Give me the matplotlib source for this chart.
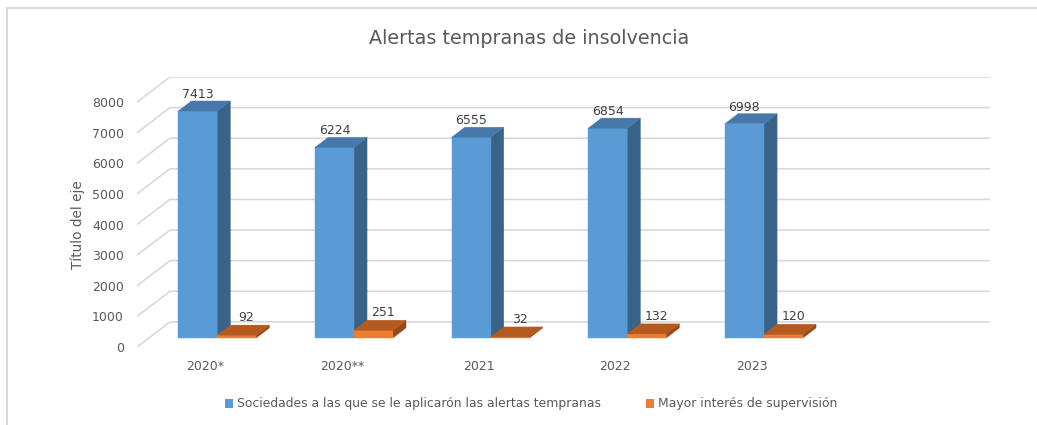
import matplotlib.pyplot as plt
from matplotlib.patches import Polygon, Patch
from matplotlib.lines import Line2D

plt.rcParams['font.family'] = ['DejaVu Sans']

# --- data ---
categories = ['2020*', '2020**', '2021', '2022', '2023']
sociedades = [7413, 6224, 6555, 6854, 6998]
supervision = [92, 251, 32, 132, 120]
series_names = ['Sociedades a las que se le aplicarón las alertas tempranas',
                'Mayor interés de supervisión']
yticks = list(range(0, 8001, 1000))

# --- fake 3D look ---
N_SLOTS = 6            # excel leaves an empty slot at the right
DEPTH_X = 0.241        # floor depth, category units
DEPTH_Y = 820          # floor depth, value units
BAR_W = 0.285
D0, D1 = 0.36, 0.76    # bar depth range (0 front, 1 back wall)

TXT = '#595959'
GRID = '#d9d9d9'
faces = {
    0: ('#5b9bd5', '#4679aa', '#3a6389'),
    1: ('#ed7d31', '#b55a1e', '#97491a'),
}


def proj(x, v, d):
    return (x + d * DEPTH_X, v + d * DEPTH_Y)


def draw_box(ax, x0, x1, h, cols):
    front = [proj(x0, 0, D0), proj(x1, 0, D0), proj(x1, h, D0), proj(x0, h, D0)]
    top = [proj(x0, h, D0), proj(x1, h, D0), proj(x1, h, D1), proj(x0, h, D1)]
    side = [proj(x1, 0, D0), proj(x1, 0, D1), proj(x1, h, D1), proj(x1, h, D0)]
    for pts, c in ((side, cols[2]), (front, cols[0]), (top, cols[1])):
        ax.add_patch(Polygon(pts, closed=True, facecolor=c, edgecolor=c,
                             linewidth=0.3, zorder=3))


W, H = 1037, 425
fig = plt.figure(figsize=(W / 100, H / 100), dpi=100)

# chart frame (only top and left edges are visible in the crop)
fig.add_artist(Line2D([6.5 / W, 1], [1 - 8 / H, 1 - 8 / H], color=GRID, lw=1.5,
                      transform=fig.transFigure))
fig.add_artist(Line2D([6.5 / W, 6.5 / W], [0, 1 - 8 / H], color=GRID, lw=1.5,
                      transform=fig.transFigure))

ax = fig.add_axes([137 / W, (H - 347) / H, (990 - 137) / W, (347 - 77) / H])
ax.set_xlim(0, N_SLOTS + DEPTH_X)
ax.set_ylim(0, yticks[-1] + DEPTH_Y)
for s in ax.spines.values():
    s.set_visible(False)

# side wall diagonals and back wall gridlines
for v in yticks:
    a = proj(0, v, 0)
    b = proj(0, v, 1)
    c = proj(N_SLOTS, v, 1)
    ax.plot([a[0], b[0], c[0]], [a[1], b[1], c[1]], color=GRID, lw=1.2, zorder=1,
            solid_joinstyle='miter')

# bars
for i, (v1, v2) in enumerate(zip(sociedades, supervision)):
    cx = i + 0.5
    draw_box(ax, cx - BAR_W, cx, v1, faces[0])
    draw_box(ax, cx, cx + BAR_W, v2, faces[1])
    fx, fy = proj(cx - BAR_W / 2, v1, D0)
    ax.annotate(str(v1), (fx, fy), xytext=(0, 12), textcoords='offset points',
                ha='center', va='center', fontsize=9, color='#404040', zorder=5)
    fx, fy = proj(cx + BAR_W / 2, v2, D0)
    ax.annotate(str(v2), (fx, fy), xytext=(7, 12.5), textcoords='offset points',
                ha='center', va='center', fontsize=9, color='#404040', zorder=5)

ax.set_yticks(yticks)
ax.set_yticklabels([str(t) for t in yticks])
ax.set_xticks([i + 0.5 for i in range(len(categories))])
ax.set_xticklabels(categories)
ax.tick_params(axis='y', length=0, pad=9.5, labelsize=9, labelcolor=TXT)
ax.tick_params(axis='x', length=0, pad=9, labelsize=9, labelcolor=TXT)

fig.text(529 / W, 1 - 39 / H, 'Alertas tempranas de insolvencia', ha='center',
         va='center', fontsize=13.8, color=TXT)
fig.text(78 / W, 1 - 225 / H, 'Título del eje', ha='center', va='center',
         rotation=90, fontsize=9.8, color=TXT)

handles = [Patch(facecolor=faces[0][0], edgecolor='none'),
           Patch(facecolor=faces[1][0], edgecolor='none')]
fig.legend(handles, series_names, loc='center', bbox_to_anchor=(531 / W, 1 - 404 / H),
           ncol=2, frameon=False, fontsize=8.9, labelcolor=TXT, handlelength=0.7,
           handleheight=0.7, handletextpad=0.3, columnspacing=3.6)

fig.savefig('out.png', dpi=100)
